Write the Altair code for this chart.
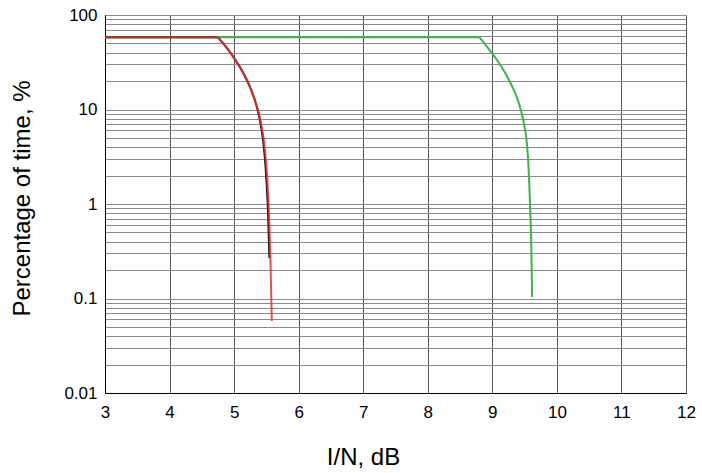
import altair as alt
import pandas as pd

# I/N (dB) and percentage of time (%)
green_x = [3.0, 8.798, 8.899, 8.992, 9.093, 9.191, 9.274, 9.360, 9.429, 9.485, 9.526, 9.553, 9.570, 9.589, 9.605, 9.616]
green_y = [58, 58, 48.1, 39.6, 31.8, 24.9, 19.5, 14.6, 10.6, 7.38, 4.99, 3.07, 1.79, 0.803, 0.326, 0.104]

black_x = [3.0, 4.750, 4.853, 4.946, 5.039, 5.116, 5.197, 5.264, 5.321, 5.372, 5.414, 5.448, 5.479, 5.505, 5.527, 5.547]
black_y = [58, 58, 48.1, 39.6, 31.8, 26.2, 20.5, 16.1, 12.6, 9.41, 6.85, 4.76, 2.92, 1.59, 0.765, 0.268]

red_x = [3.0, 4.750, 4.853, 4.946, 5.039, 5.116, 5.197, 5.264, 5.321, 5.377, 5.422, 5.459, 5.492, 5.519, 5.541, 5.563, 5.584]
red_y = [58, 58, 48.1, 39.6, 31.8, 26.2, 20.5, 16.1, 12.6, 9.41, 6.85, 4.76, 2.92, 1.59, 0.765, 0.255, 0.0578]

x_ticks = list(range(3, 13))
y_ticks = [round(m * 10 ** e, 4) for e in range(-2, 2) for m in range(1, 10)] + [100]

FONT = "Liberation Sans"


def frame(xs, ys):
    return pd.DataFrame({"x": xs, "y": ys, "order": list(range(len(xs)))})


x_enc = alt.X(
    "x:Q",
    scale=alt.Scale(domain=[3, 12], nice=False),
    axis=alt.Axis(
        values=x_ticks, grid=True, gridColor="#555555", gridWidth=1,
        tickSize=0, labelPadding=11, labelFontSize=17, labelFont=FONT, labelColor="black",
        labelFlush=False,
        domainColor="black", domainWidth=1,
        title="I/N, dB", titleFont=FONT, titleFontSize=24, titleFontWeight="normal",
        titleColor="black", titleX=258, titleY=71, titleBaseline="alphabetic",
    ),
)
y_enc = alt.Y(
    "y:Q",
    scale=alt.Scale(type="log", domain=[0.01, 100], nice=False),
    axis=alt.Axis(
        values=y_ticks, grid=True, gridColor="#8a8a8a", gridWidth=1,
        labelExpr="abs(log(datum.value)/LN10 - round(log(datum.value)/LN10)) < 0.001 ? datum.label : ''",
        format="~g", labelOverlap=False, labelFlush=False,
        tickSize=0, labelPadding=8, labelFontSize=17, labelFont=FONT, labelColor="black",
        domainColor="black", domainWidth=1,
        title="Percentage of time, %", titleFont=FONT, titleFontSize=24, titleFontWeight="normal",
        titleColor="black", titleX=-83, titleY=183, titleAngle=-90,
        titleAlign="center", titleBaseline="middle",
    ),
)


def series(xs, ys, color, opacity=1.0):
    # flat part drawn straight, falling part drawn as a smooth curve through the read points
    flat = alt.Chart(frame(xs[:2], ys[:2])).mark_line(
        color=color, strokeWidth=2, opacity=opacity
    ).encode(x=x_enc, y=y_enc, order="order:Q")
    drop = alt.Chart(frame(xs[1:], ys[1:])).mark_line(
        color=color, strokeWidth=2, opacity=opacity, interpolate="monotone"
    ).encode(x=x_enc, y=y_enc, order="order:Q")
    return [flat, drop]


chart = alt.layer(
    *series(green_x, green_y, "#3cb44a"),
    *series(black_x, black_y, "#111111"),
    *series(red_x, red_y, "#e8312f", 0.85),
).properties(
    width=581,
    height=378,
    autosize=alt.AutoSizeParams(type="none"),
    padding={"left": 105, "top": 15, "right": 16, "bottom": 80},
).configure_view(stroke=None).configure(background="white")

chart.save("out.html", embed_options={"renderer": "svg", "actions": False})
